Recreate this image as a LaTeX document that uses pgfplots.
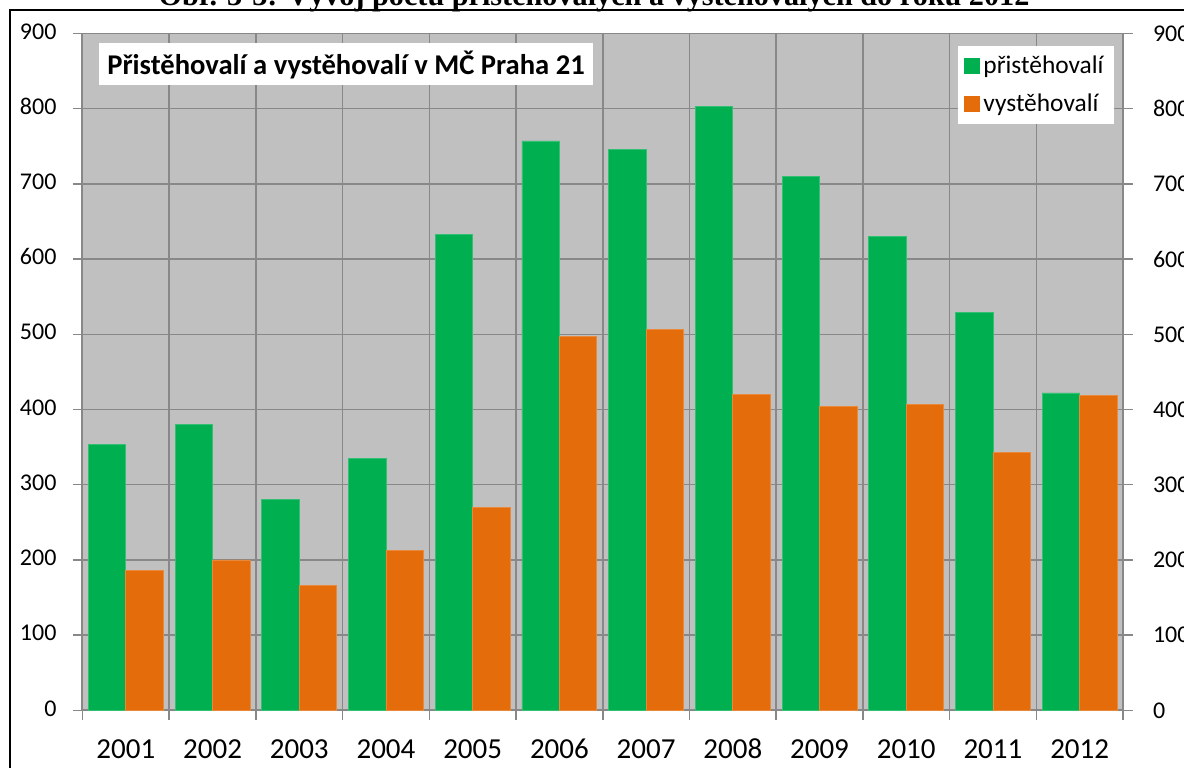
\documentclass[border=0pt]{standalone}
\usepackage{pgfplots}
\pgfplotsset{compat=1.18}
\usepackage{fontspec}
\setmainfont{Carlito}
\newfontfamily\titlefont{Liberation Serif}
\definecolor{bggray}{HTML}{C0C0C0}
\definecolor{gridgray}{HTML}{888888}
\definecolor{bargreen}{HTML}{00B050}
\definecolor{barorange}{HTML}{E46C0A}
\begin{document}
\begin{tikzpicture}[x=1pt,y=1pt]
\useasboundingbox (0,0) rectangle (592,383.5);
\clip (0,0) rectangle (592,383.5);
\begin{axis}[
  scale only axis, width=520.25pt, height=338.5pt,
  at={(41.25pt,28.3pt)}, anchor=south west,
  xmin=-0.5, xmax=11.5, ymin=0, ymax=900,
  axis background/.style={fill=bggray},
  axis x line*=bottom, axis y line*=left,
  axis line style={gridgray, line width=1pt},
  ytick={0,100,...,900},
  xtick={-0.5,0.5,...,11.5}, xticklabels={},
  extra x ticks={0,1,2,3,4,5,6,7,8,9,10,11},
  extra x tick labels={2001,2002,2003,2004,2005,2006,2007,2008,2009,2010,2011,2012},
  extra x tick style={major tick length=0pt, grid=none,
    xticklabel style={font=\fontsize{14.5}{16}\selectfont, yshift=-9.5pt}},
  typeset ticklabels with strut,
  grid=major, grid style={gridgray, line width=0.75pt},
  tick align=outside, major tick length=5pt,
  tick style={gridgray, line width=0.75pt},
  /pgf/number format/assume math mode=true,
  yticklabel style={font=\fontsize{12}{14}\selectfont, xshift=-4.5pt},
  legend style={at={(0.9913,0.9814)}, anchor=north east, draw=none, fill=white,
    font=\fontsize{12.7}{14}\selectfont, inner xsep=3pt, inner ysep=2.5pt, row sep=5pt,
    cells={anchor=west}},
  ybar, bar width=0.432,
]
\addplot[fill=bargreen, draw=bargreen!80!white, line width=0.4pt, bar shift=-0.216,
  legend image code/.code={\fill[bargreen] (0pt,-3.75pt) rectangle (7.5pt,3.75pt);}] coordinates {
(0,354) (1,380) (2,280) (3,335) (4,633) (5,757) (6,746) (7,803) (8,710) (9,630) (10,529) (11,422)};
\addplot[fill=barorange, draw=barorange!80!white, line width=0.4pt, bar shift=0.216,
  legend image code/.code={\fill[barorange] (0pt,-3.75pt) rectangle (7.5pt,3.75pt);}] coordinates {
(0,186) (1,200) (2,166) (3,213) (4,270) (5,497) (6,506) (7,420) (8,404) (9,407) (10,343) (11,419)};
\legend{přistěhovalí, vystěhovalí}
\end{axis}
\begin{axis}[
  scale only axis, width=520.25pt, height=338.5pt,
  at={(41.25pt,28.3pt)}, anchor=south west,
  xmin=-0.5, xmax=11.5, ymin=0, ymax=900,
  axis y line*=right, axis x line=none,
  axis line style={gridgray, line width=1pt},
  ytick={0,100,...,900},
  tick align=outside, major tick length=5pt,
  tick style={gridgray, line width=0.75pt},
  /pgf/number format/assume math mode=true,
  yticklabel style={font=\fontsize{12}{14}\selectfont, xshift=6.5pt},
]
\addplot[draw=none] coordinates {(0,0)};
\end{axis}
\node[fill=white, minimum width=247pt, minimum height=21pt, inner sep=0pt,
  font=\bfseries\fontsize{14.3}{16}\selectfont] at (173,351.25)
  {Přistěhovalí a vystěhovalí v MČ Praha 21};
\node[font=\titlefont\bfseries\fontsize{15.1}{17}\selectfont, anchor=base] at (297,380.5)
  {Obr. 3-3: Vývoj počtu přistěhovalých a vystěhovalých do roku 2012};
\draw[black, line width=1.1pt] (5.1,378.5) rectangle (620,-20);
\end{tikzpicture}
\end{document}
